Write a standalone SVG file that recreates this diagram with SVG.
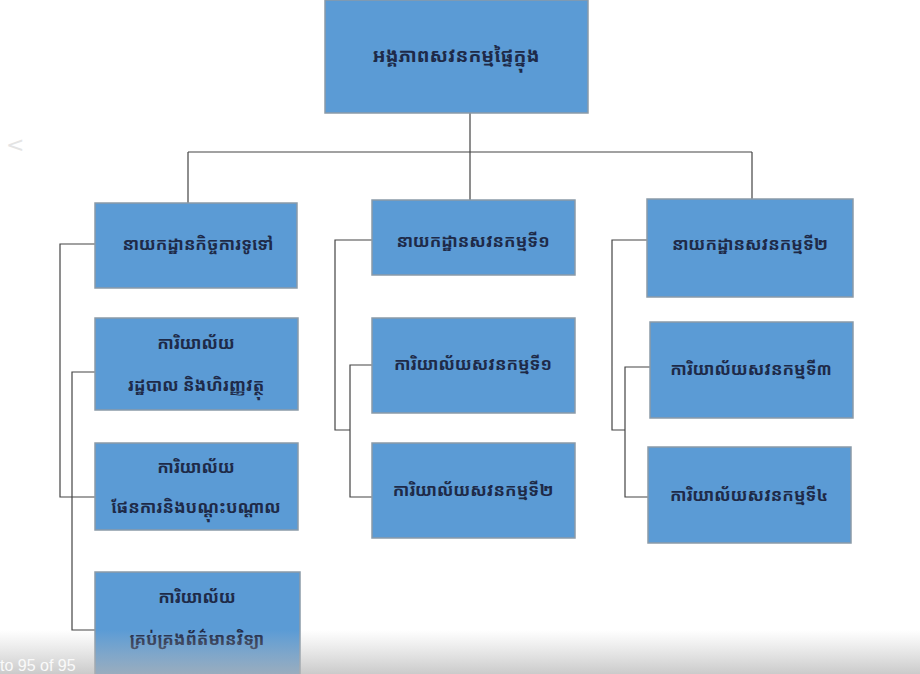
<svg xmlns="http://www.w3.org/2000/svg" width="920" height="674" viewBox="0 0 920 674">
<defs>
<style>
.box{fill:#5b9bd5;stroke:#8a9aa8;stroke-width:1.5}
.t{font-family:"Noto Sans Khmer","Khmer OS","Khmer OS Battambang","DejaVu Sans","Noto Sans",sans-serif;font-size:17px;font-weight:bold;fill:#1e2a48;text-anchor:middle}
.c{fill:none;stroke:#444;stroke-width:1.2}
</style>
<linearGradient id="ov" x1="0" y1="0" x2="0" y2="1">
<stop offset="0" stop-color="#bdbdbd" stop-opacity="0"/>
<stop offset="1" stop-color="#b4b4b4" stop-opacity="0.7"/>
</linearGradient>
</defs>
<rect width="920" height="674" fill="#ffffff"/>
<text x="6" y="152" font-family="DejaVu Sans,sans-serif" font-size="22" fill="#e4e4e4">&lt;</text>
<g id="connectors">
<path class="c" d="M470 113V200M188 152H752M188 152V203M752 152V199"/>
<path class="c" d="M95 244H60V497H95M95 372H72V630H95"/>
<path class="c" d="M372 240H335V430H350M372 365H350V497H372"/>
<path class="c" d="M647 240H612V430H625M650 367H625V497H648"/>
</g>
<g id="n0"><rect class="box" x="325" y="0" width="263" height="113"/><text class="t" x="456" y="62" style="font-size:19px">អង្គភាពសវនកម្មផ្ទៃក្នុង</text></g>
<g id="n1"><rect class="box" x="95" y="203" width="202" height="85"/><text class="t" x="198" y="250">នាយកដ្ឋានកិច្ចការទូទៅ</text></g>
<g id="n2"><rect class="box" x="95" y="318" width="203" height="92"/><text class="t" x="196" y="349">ការិយាល័យ</text><text class="t" x="196" y="391">រដ្ឋបាល និងហិរញ្ញវត្ថុ</text></g>
<g id="n3"><rect class="box" x="95" y="443" width="203" height="87"/><text class="t" x="196" y="473">ការិយាល័យ</text><text class="t" x="196" y="513">ផែនការនិងបណ្តុះបណ្តាល</text></g>
<g id="n4"><rect class="box" x="95" y="572" width="205" height="110"/><text class="t" x="197" y="603">ការិយាល័យ</text><text class="t" x="197" y="645">គ្រប់គ្រងព័ត៌មានវិទ្យា</text></g>
<g id="n5"><rect class="box" x="372" y="200" width="203" height="75"/><text class="t" x="473" y="247">នាយកដ្ឋានសវនកម្មទី១</text></g>
<g id="n6"><rect class="box" x="372" y="318" width="203" height="95"/><text class="t" x="473" y="370">ការិយាល័យសវនកម្មទី១</text></g>
<g id="n7"><rect class="box" x="372" y="443" width="203" height="95"/><text class="t" x="473" y="496">ការិយាល័យសវនកម្មទី២</text></g>
<g id="n8"><rect class="box" x="647" y="199" width="206" height="98"/><text class="t" x="750" y="250">នាយកដ្ឋានសវនកម្មទី២</text></g>
<g id="n9"><rect class="box" x="650" y="322" width="203" height="96"/><text class="t" x="751" y="375">ការិយាល័យសវនកម្មទី៣</text></g>
<g id="n10"><rect class="box" x="648" y="447" width="203" height="96"/><text class="t" x="749" y="501">ការិយាល័យសវនកម្មទី៤</text></g>
<rect x="0" y="630" width="920" height="44" fill="url(#ov)"/>
<text x="0" y="671" font-family="Liberation Sans,sans-serif" font-size="16" fill="#fafafa">to 95 of 95</text>
</svg>
